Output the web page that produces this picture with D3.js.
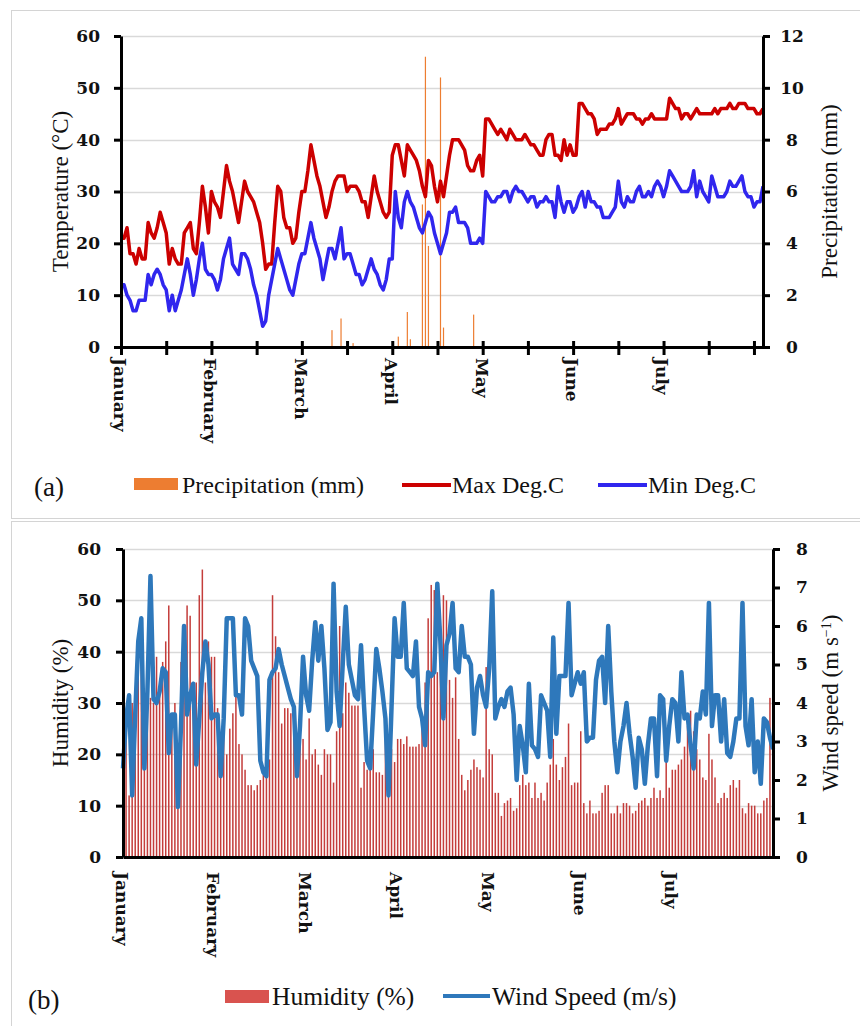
<!DOCTYPE html>
<html>
<head>
<meta charset="utf-8">
<script src="https://cdn.jsdelivr.net/npm/d3@7"></script>
<style>
	body { margin: 0; background: #fff; }
	.tick-label { font-family: "DejaVu Serif"; font-weight: bold; font-size: 17px; fill: #111; }
	.axis-title { font-family: "Liberation Serif"; font-size: 23px; fill: #111; }
	.legend-text { font-family: "Liberation Serif"; font-size: 24px; fill: #111; }
	.legend-b .legend-text { font-size: 25.5px; }
	.panel-tag { font-family: "Liberation Serif"; font-size: 27px; fill: #111; }
</style>
</head>
<body>
<svg id="chart" width="860" height="1026"></svg>
<script>
// x axis: one category per day, Jan 1 .. end of July
const months = ["January", "February", "March", "April", "May", "June", "July"];
const tickDays = [0, 15, 30, 45, 60, 75, 90, 105, 120, 135, 150, 165, 180, 195, 210];

const tempTicks = [0, 10, 20, 30, 40, 50, 60];
const precipTicks = [0, 2, 4, 6, 8, 10, 12];
const humidityTicks = [0, 10, 20, 30, 40, 50, 60];
const windTicks = [0, 1, 2, 3, 4, 5, 6, 7, 8];

// panel (a)
const maxTemp = [
	21, 21, 23, 18, 18, 16, 19, 17, 17, 24,
	22, 21, 23, 26, 24, 22, 16, 19, 17, 16,
	16, 22, 23, 24, 19, 18, 24, 31, 27, 22,
	30, 28, 27, 25, 30, 35, 32, 30, 27, 24,
	28, 32, 30, 29, 28, 26, 24, 20, 15, 16,
	16, 24, 31, 30, 25, 23, 23, 20, 21, 26,
	30, 30, 34, 39, 36, 33, 31, 28, 25, 27,
	30, 32, 33, 33, 33, 30, 31, 31, 31, 30,
	28, 28, 25, 29, 33, 30, 28, 26, 25, 26,
	37, 39, 39, 36, 33, 39, 38, 37, 36, 34,
	31, 29, 36, 35, 31, 28, 32, 29, 33, 37,
	40, 40, 40, 39, 38, 35, 34, 34, 36, 37,
	33, 44, 44, 43, 42, 41, 42, 41, 40, 42,
	41, 40, 40, 40, 41, 40, 39, 39, 38, 37,
	37, 40, 41, 41, 37, 37, 36, 40, 37, 39,
	37, 37, 47, 47, 46, 45, 45, 44, 41, 42,
	42, 42, 43, 43, 44, 46, 43, 44, 45, 45,
	45, 44, 44, 43, 44, 44, 45, 44, 44, 44,
	44, 44, 48, 47, 46, 46, 44, 45, 45, 44,
	45, 46, 45, 45, 45, 45, 45, 46, 45, 46,
	46, 46, 47, 46, 46, 47, 47, 47, 46, 46,
	46, 45, 45, 46
];

const minTemp = [
	12, 12, 10, 9, 7, 7, 9, 9, 9, 14,
	12, 14, 15, 14, 12, 11, 7, 10, 7, 9,
	11, 14, 17, 14, 10, 13, 17, 20, 15, 14,
	14, 13, 11, 13, 17, 19, 21, 16, 15, 14,
	18, 18, 17, 15, 12, 10, 7, 4, 5, 10,
	13, 16, 19, 17, 15, 13, 11, 10, 13, 16,
	18, 18, 21, 24, 21, 19, 17, 13, 16, 19,
	19, 17, 20, 23, 17, 18, 18, 16, 14, 14,
	12, 13, 15, 17, 15, 14, 12, 11, 13, 17,
	17, 30, 25, 23, 28, 30, 28, 27, 25, 23,
	22, 24, 26, 25, 22, 20, 18, 20, 22, 26,
	26, 27, 24, 24, 24, 23, 20, 20, 20, 21,
	20, 30, 29, 28, 28, 29, 29, 30, 30, 28,
	30, 31, 30, 30, 29, 28, 29, 29, 27, 28,
	28, 29, 28, 28, 25, 31, 28, 26, 28, 28,
	26, 27, 29, 30, 27, 30, 28, 28, 27, 27,
	25, 25, 25, 26, 27, 32, 28, 27, 29, 28,
	28, 30, 31, 29, 29, 30, 29, 31, 32, 31,
	29, 31, 34, 33, 32, 31, 30, 30, 30, 31,
	34, 29, 32, 30, 29, 28, 33, 31, 29, 29,
	29, 30, 32, 31, 31, 32, 33, 30, 29, 29,
	27, 28, 28, 31
];

// rainy days only (day index, mm)
const precipDays = [70, 73, 77, 92, 95, 96, 100, 101, 102, 106, 107, 117];
const precipValues = [0.65, 1.1, 0.15, 0.4, 1.35, 0.3, 5.5, 11.2, 3.9, 10.4, 0.75, 1.25];

// panel (b)
const humidity = [
	17, 28, 12, 30, 24, 38, 46, 18, 35, 31,
	30, 39, 33, 38, 42, 49, 28, 30, 20, 38,
	45, 49, 47, 34, 34, 51, 56, 34, 42, 39,
	39, 29, 21, 26, 20, 25, 28, 32, 22, 20,
	17, 14, 14, 13, 14, 15, 16, 16, 19, 51,
	43, 36, 26, 29, 29, 28, 25, 22, 23, 23,
	19, 27, 20, 21, 18, 16, 21, 20, 20, 14.5,
	24.5, 45, 28, 34, 32, 29.5, 29.5, 29.5, 13.5, 18.5,
	17, 21, 21, 16.5, 16.5, 16, 26, 21.5, 21, 18.5,
	23, 23, 22, 23.5, 21.5, 21.5, 21.5, 22, 28, 34,
	46.5, 53, 52, 36, 45, 51, 50, 34.5, 31, 35,
	23, 16, 13, 15, 17, 19, 17.5, 17, 15.5, 37,
	21, 20, 12.5, 12.5, 8, 10.5, 11, 11.5, 9, 9.5,
	14, 16, 14, 14.5, 11.5, 14.5, 11.5, 12.5, 11, 14.5,
	18, 23, 18, 15, 17.5, 19.5, 26, 14, 14.5, 14.5,
	24.5, 10.5, 8.5, 11, 8.5, 8.5, 9, 12.5, 14, 14,
	8.5, 8.5, 10, 8.5, 10.5, 10.5, 10, 8.5, 9, 10.5,
	11, 11.5, 10, 11.5, 13.5, 11.5, 13, 11.5, 19.5, 13.5,
	17, 17, 18, 19, 21.5, 25.5, 28.5, 24.5, 21, 19,
	15.5, 15, 24, 19, 15.5, 10.5, 11.5, 12.5, 11.5, 14,
	15, 13.5, 15, 9.5, 8.5, 10.5, 10, 10, 8.5, 8.5,
	11, 11.5, 31, 16.5
];

const windSpeed = [
	2.3, 3.6, 4.2, 1.6, 3.7, 5.6, 6.2, 2.3, 4.3, 7.3,
	4.1, 4.0, 4.3, 4.9, 4.8, 2.7, 3.7, 3.7, 1.3, 3.4,
	6.0, 3.7, 4.2, 4.5, 2.4, 3.6, 4.8, 5.6, 5.0, 3.6,
	3.7, 3.7, 2.1, 3.6, 6.2, 6.2, 6.2, 4.2, 4.2, 3.7,
	6.2, 6.0, 5.1, 4.9, 4.7, 2.5, 2.2, 2.1, 4.6, 4.8,
	4.9, 5.4, 5.0, 4.7, 4.4, 4.1, 3.9, 2.1, 3.4, 5.2,
	4.2, 3.8, 5.1, 6.1, 5.1, 6.0, 4.9, 3.3, 3.5, 7.1,
	4.3, 3.4, 5.0, 6.5, 5.0, 4.6, 4.2, 4.1, 5.5, 3.9,
	2.5, 2.3, 3.8, 5.4, 4.9, 4.3, 3.6, 1.6, 3.9, 6.2,
	5.2, 5.2, 6.6, 4.9, 4.8, 4.7, 5.6, 3.9, 3.6, 2.9,
	4.8, 4.7, 4.8, 7.1, 5.6, 3.6, 5.5, 5.8, 6.6, 4.9,
	4.8, 6.0, 5.2, 5.2, 5.0, 3.2, 4.4, 4.7, 4.2, 3.9,
	4.9, 6.9, 3.6, 3.9, 4.1, 3.9, 4.3, 4.4, 3.7, 2.0,
	3.4, 2.9, 2.2, 4.5, 2.9, 2.8, 2.6, 4.2, 4.0, 3.8,
	2.6, 5.7, 3.2, 4.7, 4.7, 4.7, 6.6, 4.2, 4.5, 4.8,
	4.5, 4.8, 3.0, 3.1, 3.1, 4.6, 5.1, 5.2, 4.0, 6.0,
	4.3, 3.0, 2.2, 3.0, 3.4, 4.0, 3.2, 2.6, 1.8, 3.1,
	2.8, 1.9, 2.9, 3.6, 3.6, 2.1, 4.2, 4.1, 2.5, 3.4,
	4.1, 4.0, 3.0, 4.8, 3.6, 3.7, 2.9, 2.3, 3.7, 3.6,
	4.3, 3.7, 6.6, 3.4, 4.2, 4.2, 3.0, 4.1, 2.7, 2.6,
	3.0, 3.6, 3.6, 6.6, 3.4, 2.9, 4.1, 2.2, 3.0, 1.9,
	3.6, 3.5, 3.1, 2.8
];

const colors = {
	grid: "#d9d9d9",
	frame: "#d4d4d4",
	precip: "#ed7d31",
	maxT: "#cc0000",
	minT: "#3026ee",
	humidity: "#c43d3b",
	humiditySwatch: "#d9534f",
	wind: "#2e78bb"
};

const svg = d3.select("#chart");

// light panel frames
svg.append("rect").attr("x", 11.5).attr("y", 10.5).attr("width", 860).attr("height", 508)
	.attr("fill", "none").attr("stroke", colors.frame);
svg.append("rect").attr("x", 11.5).attr("y", 521.5).attr("width", 860).attr("height", 520)
	.attr("fill", "none").attr("stroke", colors.frame);

function drawGrid(g, yScale, ticks, x0, x1) {
	g.append("g").attr("class", "grid")
		.selectAll("line")
		.data(ticks.slice(1))
		.join("line")
		.attr("x1", x0).attr("x2", x1)
		.attr("y1", (d) => Math.round(yScale(d)) + 0.5)
		.attr("y2", (d) => Math.round(yScale(d)) + 0.5)
		.attr("stroke", colors.grid)
		.attr("stroke-width", 1.3);
}

function styleAxis(g) {
	g.select(".domain").attr("stroke", "#000").attr("stroke-width", 3);
	g.selectAll(".tick line").attr("stroke", "#000").attr("stroke-width", 3);
	g.selectAll(".tick text").attr("class", "tick-label");
}

function drawYAxis(svg, scale, ticks, x, side, padding) {
	const axis = (side === "left" ? d3.axisLeft(scale) : d3.axisRight(scale))
		.tickValues(ticks).tickSize(7).tickSizeOuter(0).tickPadding(padding);
	const g = svg.append("g").attr("transform", `translate(${x},0)`).call(axis);
	styleAxis(g);
	return g;
}

function drawXAxis(svg, scale, y, labelOffset, tickUp, tickDown) {
	const axis = d3.axisBottom(scale)
		.tickValues(tickDays)
		.tickSize(tickDown)
		.tickSizeOuter(0)
		.tickFormat((d) => d % 30 === 0 ? months[d / 30] : "");
	const g = svg.append("g").attr("transform", `translate(0,${y})`).call(axis);
	styleAxis(g);
	g.selectAll(".tick line").attr("y1", -tickUp);
	g.selectAll(".tick text")
		.attr("transform", "rotate(90)")
		.attr("x", labelOffset)
		.attr("y", 0)
		.attr("dy", "0.45em")
		.style("text-anchor", "start");
	return g;
}

function drawTitle(svg, text, x, y) {
	const t = svg.append("text")
		.attr("class", "axis-title")
		.attr("transform", `translate(${x},${y}) rotate(-90)`)
		.attr("text-anchor", "middle");
	if (Array.isArray(text)) {
		text.forEach(([s, sup]) => {
			t.append("tspan").text(s)
				.attr("baseline-shift", sup ? "super" : null)
				.attr("font-size", sup ? "14px" : null);
		});
	} else {
		t.text(text);
	}
	return t;
}

// ---------- panel (a) ----------
const a = { left: 121, right: 763, top: 36, bottom: 347 };

const xA = d3.scaleLinear().domain([0, maxTemp.length - 1]).range([a.left, a.right]);
const yTemp = d3.scaleLinear().domain([0, 60]).range([a.bottom, a.top]);
const yPrecip = d3.scaleLinear().domain([0, 12]).range([a.bottom, a.top]);

const panelA = svg.append("g").attr("class", "panel-a");
drawGrid(panelA, yTemp, tempTicks, a.left, a.right);

// precipitation bars
panelA.append("g").attr("class", "precip")
	.selectAll("rect")
	.data(precipDays.map((d, i) => ({ day: d, value: precipValues[i] })))
	.join("rect")
	.attr("x", (d) => xA(d.day) - 0.6)
	.attr("width", 1.2)
	.attr("y", (d) => yPrecip(d.value))
	.attr("height", (d) => yPrecip(0) - yPrecip(d.value))
	.attr("fill", colors.precip);

const lineA = d3.line()
	.x((d, i) => xA(i))
	.y((d) => yTemp(d));

panelA.append("path")
	.datum(maxTemp)
	.attr("d", lineA)
	.attr("fill", "none")
	.attr("stroke", colors.maxT)
	.attr("stroke-width", 3.5)
	.attr("stroke-linejoin", "round");

panelA.append("path")
	.datum(minTemp)
	.attr("d", lineA)
	.attr("fill", "none")
	.attr("stroke", colors.minT)
	.attr("stroke-width", 3.5)
	.attr("stroke-linejoin", "round");

drawYAxis(panelA, yTemp, tempTicks, a.left, "left", 14);
const rightA = drawYAxis(panelA, yPrecip, precipTicks, a.right, "right", 22);
rightA.selectAll(".tick text").attr("text-anchor", "middle");
drawXAxis(panelA, xA, a.bottom, 11, 6, 8);

drawTitle(panelA, "Temperature (°C)", 68, (a.top + a.bottom) / 2);
drawTitle(panelA, "Precipitation (mm)", 837, (a.top + a.bottom) / 2);

// legend (a)
const legA = panelA.append("g").attr("class", "legend");
legA.append("text").attr("class", "panel-tag").attr("x", 34).attr("y", 496).text("(a)");
legA.append("rect").attr("x", 134).attr("y", 478).attr("width", 44).attr("height", 12).attr("fill", colors.precip);
legA.append("text").attr("class", "legend-text").attr("x", 182).attr("y", 493).text("Precipitation (mm)");
legA.append("line").attr("x1", 402).attr("x2", 451).attr("y1", 485).attr("y2", 485)
	.attr("stroke", colors.maxT).attr("stroke-width", 4);
legA.append("text").attr("class", "legend-text").attr("x", 452).attr("y", 493).text("Max Deg.C");
legA.append("line").attr("x1", 598).attr("x2", 647).attr("y1", 485).attr("y2", 485)
	.attr("stroke", colors.minT).attr("stroke-width", 4);
legA.append("text").attr("class", "legend-text").attr("x", 648).attr("y", 493).text("Min Deg.C");

// ---------- panel (b) ----------
const b = { left: 123, right: 773, top: 549, bottom: 857 };

const xB = d3.scaleLinear().domain([0, humidity.length - 1]).range([b.left, b.right]);
const yHum = d3.scaleLinear().domain([0, 60]).range([b.bottom, b.top]);
const yWind = d3.scaleLinear().domain([0, 8]).range([b.bottom, b.top]);

const panelB = svg.append("g").attr("class", "panel-b");
drawGrid(panelB, yHum, humidityTicks, b.left, b.right);

panelB.append("g").attr("class", "humidity")
	.selectAll("rect")
	.data(humidity)
	.join("rect")
	.attr("x", (d, i) => xB(i) - 0.75)
	.attr("width", 1.5)
	.attr("y", (d) => yHum(d))
	.attr("height", (d) => yHum(0) - yHum(d))
	.attr("fill", colors.humidity);

const lineB = d3.line()
	.x((d, i) => xB(i))
	.y((d) => yWind(d));

panelB.append("path")
	.datum(windSpeed)
	.attr("d", lineB)
	.attr("fill", "none")
	.attr("stroke", colors.wind)
	.attr("stroke-width", 4.5)
	.attr("stroke-linejoin", "round");

drawYAxis(panelB, yHum, humidityTicks, b.left, "left", 15);
drawYAxis(panelB, yWind, windTicks, b.right, "right", 16);
drawXAxis(panelB, xB, b.bottom, 15, 0, 0);

drawTitle(panelB, "Humidity (%)", 68, (b.top + b.bottom) / 2);
drawTitle(panelB, [["Wind speed (m s"], ["−1", true], [")"]], 838, (b.top + b.bottom) / 2);

// legend (b)
const legB = panelB.append("g").attr("class", "legend legend-b");
legB.append("text").attr("class", "panel-tag").attr("x", 28).attr("y", 1009).text("(b)");
legB.append("rect").attr("x", 225).attr("y", 990).attr("width", 44).attr("height", 13).attr("fill", colors.humiditySwatch);
legB.append("text").attr("class", "legend-text").attr("x", 272).attr("y", 1005).text("Humidity (%)");
legB.append("line").attr("x1", 443).attr("x2", 490).attr("y1", 996).attr("y2", 996)
	.attr("stroke", colors.wind).attr("stroke-width", 4);
legB.append("text").attr("class", "legend-text").attr("x", 492).attr("y", 1005).text("Wind Speed (m/s)");
</script>
</body>
</html>
